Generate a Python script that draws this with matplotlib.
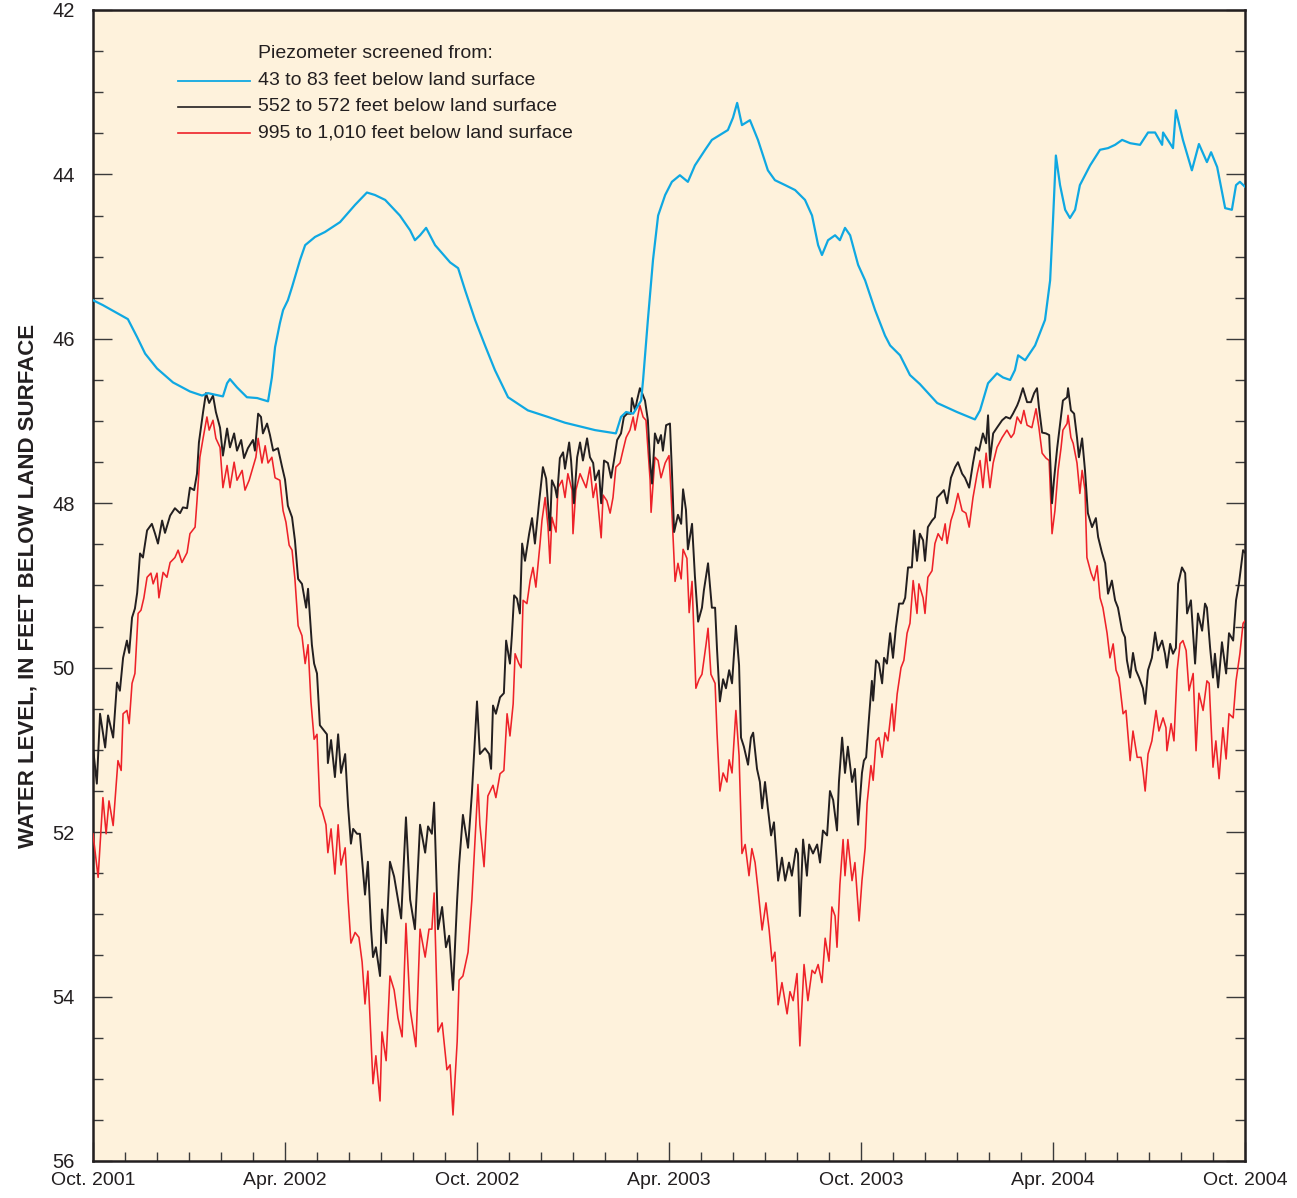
import matplotlib
matplotlib.use("Agg")
import matplotlib.pyplot as plt
from matplotlib.ticker import MultipleLocator, FixedLocator
import numpy as np

FONT = ['Liberation Sans', 'DejaVu Sans']
plt.rcParams['font.family'] = FONT

# x values are months after October 1, 2001
shallow_t = [0, 0.31, 0.63, 1.09, 1.38, 1.63, 2.0, 2.5, 3.03, 3.41, 3.59, 4.06, 4.19, 4.28, 4.5, 4.81,
             5.13, 5.47, 5.59, 5.69, 5.84, 5.94, 6.09, 6.22, 6.47, 6.63, 6.94, 7.25, 7.72, 8.19, 8.56,
             8.81, 9.13, 9.59, 9.91, 10.06, 10.22, 10.41, 10.69, 11.16, 11.41, 11.63, 11.94, 12.25,
             12.56, 12.97, 13.59, 14.22, 14.75, 15.69, 16.34, 16.5, 16.66, 16.88, 17.13, 17.19, 17.34,
             17.5, 17.66, 17.88, 18.09, 18.34, 18.59, 18.81, 19.13, 19.34, 19.59, 19.84, 20.0, 20.13,
             20.28, 20.53, 20.78, 21.09, 21.31, 21.63, 21.94, 22.25, 22.47, 22.66, 22.78, 22.97, 23.19,
             23.34, 23.5, 23.66, 23.91, 24.13, 24.44, 24.75, 24.91, 25.22, 25.53, 25.84, 26.38, 27.0,
             27.56, 27.72, 27.97, 28.25, 28.44, 28.66, 28.81, 28.91, 29.13, 29.44, 29.75, 29.91, 30.0,
             30.09, 30.22, 30.38, 30.53, 30.69, 30.84, 31.0, 31.16, 31.47, 31.72, 31.94, 32.16, 32.41,
             32.72, 32.97, 33.19, 33.41, 33.44, 33.75, 33.84, 34.06, 34.34, 34.56, 34.81, 34.94, 35.13,
             35.38, 35.59, 35.72, 35.84, 36.0]
shallow_v = [45.53, 45.59, 45.66, 45.76, 45.98, 46.18, 46.36, 46.53, 46.64, 46.69, 46.66, 46.70, 46.54,
             46.49, 46.59, 46.71, 46.72, 46.76, 46.47, 46.10, 45.81, 45.65, 45.53, 45.37, 45.04, 44.86,
             44.76, 44.70, 44.58, 44.37, 44.22, 44.25, 44.31, 44.50, 44.68, 44.80, 44.74, 44.65, 44.86,
             45.07, 45.14, 45.41, 45.77, 46.08, 46.38, 46.71, 46.87, 46.95, 47.02, 47.11, 47.15, 46.95,
             46.89, 46.91, 46.75, 46.50, 45.77, 45.04, 44.50, 44.25, 44.09, 44.01, 44.09, 43.89, 43.70,
             43.58, 43.52, 43.46, 43.31, 43.13, 43.40, 43.34, 43.58, 43.95, 44.07, 44.13, 44.19, 44.31,
             44.50, 44.86, 44.98, 44.80, 44.74, 44.80, 44.65, 44.74, 45.10, 45.29, 45.65, 45.96, 46.08,
             46.20, 46.44, 46.55, 46.78, 46.89, 46.98, 46.87, 46.54, 46.42, 46.47, 46.50, 46.38, 46.20,
             46.26, 46.08, 45.77, 45.29, 44.56, 43.77, 44.13, 44.43, 44.53, 44.43, 44.13, 44.01, 43.89,
             43.70, 43.68, 43.64, 43.58, 43.62, 43.64, 43.49, 43.49, 43.64, 43.49, 43.68, 43.22, 43.58,
             43.95, 43.63, 43.85, 43.73, 43.91, 44.41, 44.43, 44.13, 44.09, 44.15]

mid_t = [0.01, 0.12, 0.22, 0.38, 0.47, 0.63, 0.75, 0.84, 0.94, 1.06, 1.13, 1.22, 1.31, 1.38, 1.47, 1.56,
         1.69, 1.84, 1.94, 2.03, 2.16, 2.25, 2.41, 2.56, 2.72, 2.81, 2.94, 3.03, 3.16, 3.25, 3.31, 3.44,
         3.53, 3.63, 3.75, 3.84, 3.97, 4.06, 4.19, 4.28, 4.41, 4.5, 4.63, 4.72, 4.84, 5.0, 5.06, 5.16,
         5.25, 5.31, 5.44, 5.53, 5.63, 5.78, 5.91, 6.0, 6.09, 6.22, 6.31, 6.41, 6.53, 6.66, 6.72, 6.84,
         6.91, 7.0, 7.09, 7.19, 7.31, 7.34, 7.44, 7.56, 7.66, 7.75, 7.88, 7.97, 8.06, 8.13, 8.25, 8.34,
         8.5, 8.59, 8.69, 8.75, 8.84, 8.97, 9.03, 9.16, 9.28, 9.41, 9.53, 9.63, 9.78, 9.91, 10.06, 10.22,
         10.38, 10.47, 10.59, 10.66, 10.78, 10.91, 11.03, 11.13, 11.25, 11.38, 11.44, 11.56, 11.72,
         11.84, 12.0, 12.09, 12.25, 12.38, 12.44, 12.5, 12.59, 12.72, 12.84, 12.91, 13.03, 13.09, 13.16,
         13.25, 13.34, 13.41, 13.5, 13.63, 13.72, 13.81, 13.94, 14.06, 14.16, 14.28, 14.34, 14.44,
         14.5, 14.59, 14.69, 14.75, 14.88, 14.94, 15.03, 15.13, 15.22, 15.31, 15.44, 15.53, 15.63,
         15.69, 15.81, 15.88, 15.97, 16.09, 16.19, 16.28, 16.38, 16.5, 16.59, 16.69, 16.81, 16.84,
         16.94, 17.0, 17.09, 17.16, 17.25, 17.34, 17.41, 17.47, 17.56, 17.66, 17.75, 17.81, 17.91,
         18.03, 18.09, 18.16, 18.28, 18.38, 18.44, 18.53, 18.59, 18.72, 18.81, 18.91, 19.03, 19.09,
         19.22, 19.34, 19.44, 19.5, 19.59, 19.69, 19.78, 19.88, 19.97, 20.09, 20.19, 20.25, 20.34,
         20.47, 20.56, 20.63, 20.75, 20.84, 20.91, 21.0, 21.09, 21.19, 21.28, 21.41, 21.53, 21.63,
         21.75, 21.84, 21.97, 22.03, 22.09, 22.19, 22.31, 22.38, 22.5, 22.63, 22.72, 22.81, 22.94,
         23.03, 23.13, 23.25, 23.31, 23.41, 23.5, 23.59, 23.72, 23.81, 23.91, 24.03, 24.09, 24.16,
         24.25, 24.34, 24.38, 24.47, 24.56, 24.66, 24.72, 24.81, 24.91, 25.0, 25.09, 25.19, 25.31,
         25.38, 25.47, 25.59, 25.66, 25.75, 25.84, 25.94, 26.0, 26.09, 26.22, 26.31, 26.38, 26.5,
         26.59, 26.69, 26.81, 26.94, 27.03, 27.16, 27.25, 27.38, 27.5, 27.59, 27.69, 27.81, 27.91,
         27.97, 28.03, 28.13, 28.25, 28.41, 28.53, 28.66, 28.75, 28.88, 28.94, 29.06, 29.19, 29.31,
         29.41, 29.5, 29.56, 29.66, 29.78, 29.88, 29.97, 30.03, 30.13, 30.25, 30.31, 30.44, 30.47,
         30.56, 30.66, 30.75, 30.81, 30.91, 31.0, 31.09, 31.22, 31.34, 31.41, 31.53, 31.63, 31.72,
         31.84, 31.94, 32.03, 32.16, 32.25, 32.31, 32.41, 32.5, 32.59, 32.69, 32.81, 32.88, 32.97,
         33.09, 33.19, 33.28, 33.41, 33.5, 33.56, 33.66, 33.75, 33.84, 33.91, 34.03, 34.13, 34.19,
         34.31, 34.44, 34.53, 34.66, 34.75, 34.81, 34.91, 35.0, 35.06, 35.16, 35.28, 35.41, 35.5,
         35.63, 35.72, 35.81, 35.94, 36.0]
mid_v = [51.01, 51.41, 50.56, 50.97, 50.58, 50.85, 50.18, 50.28, 49.88, 49.67, 49.82, 49.39, 49.28,
         49.09, 48.61, 48.66, 48.33, 48.25, 48.37, 48.49, 48.21, 48.36, 48.15, 48.06, 48.12, 48.05,
         48.06, 47.81, 47.84, 47.64, 47.26, 46.89, 46.66, 46.78, 46.69, 46.89, 47.08, 47.42, 47.09,
         47.32, 47.15, 47.36, 47.23, 47.45, 47.33, 47.23, 47.36, 46.91, 46.95, 47.15, 47.03, 47.17,
         47.36, 47.33, 47.56, 47.71, 48.03, 48.17, 48.45, 48.92, 48.98, 49.27, 49.04, 49.72, 49.95,
         50.07, 50.70, 50.75, 50.81, 51.16, 50.88, 51.33, 50.81, 51.28, 51.05, 51.68, 52.14, 51.96,
         52.02, 52.02, 52.76, 52.36, 53.18, 53.52, 53.40, 53.75, 52.94, 53.35, 52.36, 52.54, 52.82,
         53.05, 51.82, 52.82, 53.18, 51.91, 52.25, 51.93, 52.02, 51.64, 53.18, 52.91, 53.40, 53.26,
         53.92, 52.82, 52.40, 51.79, 52.19, 51.53, 50.41, 51.05, 50.98, 51.05, 51.23, 50.46, 50.56,
         50.36, 50.31, 49.67, 49.95, 49.61, 49.12, 49.16, 49.34, 48.49, 48.70, 48.37, 48.18, 48.49,
         47.99, 47.56, 47.70, 48.33, 47.72, 47.81, 47.93, 47.45, 47.38, 47.58, 47.26, 47.48, 48.00,
         47.44, 47.26, 47.48, 47.21, 47.44, 47.51, 47.72, 47.60, 48.00, 47.48, 47.51, 47.69, 47.48,
         47.23, 47.15, 46.95, 46.91, 46.91, 46.72, 46.87, 46.75, 46.60, 46.66, 46.75, 46.99, 47.51,
         47.76, 47.15, 47.27, 47.17, 47.36, 47.05, 47.03, 47.60, 48.35, 48.14, 48.25, 47.83, 48.08,
         48.56, 48.25, 48.89, 49.44, 49.27, 49.06, 48.73, 49.27, 49.27, 49.77, 50.41, 50.14, 50.25,
         50.03, 50.19, 49.49, 49.97, 50.85, 50.96, 51.18, 50.85, 50.79, 51.23, 51.39, 51.71, 51.39,
         51.71, 52.04, 51.88, 52.59, 52.31, 52.59, 52.37, 52.53, 52.20, 52.26, 53.02, 52.09, 52.53,
         52.15, 52.26, 52.15, 52.37, 51.98, 52.04, 51.50, 51.61, 51.98, 51.39, 50.85, 51.28, 50.96,
         51.39, 51.23, 51.91, 51.28, 51.13, 51.09, 50.61, 50.16, 50.40, 49.91, 49.95, 50.19, 49.88,
         49.95, 49.58, 49.88, 49.51, 49.22, 49.22, 49.15, 48.78, 48.78, 48.33, 48.70, 48.37, 48.45,
         48.70, 48.29, 48.21, 48.17, 47.93, 47.88, 47.84, 48.00, 47.69, 47.56, 47.50, 47.64, 47.69,
         47.81, 47.51, 47.32, 47.36, 47.15, 47.27, 46.93, 47.48, 47.15, 47.08, 46.99, 46.95, 46.97,
         46.91, 46.81, 46.75, 46.60, 46.77, 46.77, 46.66, 46.60, 46.83, 47.14, 47.15, 47.17, 48.00,
         47.72, 47.33, 46.95, 46.75, 46.71, 46.60, 46.87, 46.91, 47.20, 47.44, 47.21, 47.60, 48.12,
         48.29, 48.18, 48.41, 48.60, 48.73, 49.10, 48.94, 49.18, 49.27, 49.55, 49.63, 49.91, 50.12,
         49.82, 50.03, 50.12, 50.25, 50.44, 50.03, 49.88, 49.57, 49.79, 49.67, 49.83, 50.00, 49.71,
         49.83, 49.76, 48.98, 48.78, 48.85, 49.34, 49.18, 49.95, 49.34, 49.55, 49.22, 49.27, 49.76,
         50.12, 49.83, 50.24, 49.69, 50.07, 49.58, 49.67, 49.18, 48.98, 48.57, 48.60]

deep_t = [0.0, 0.16, 0.31, 0.41, 0.5, 0.63, 0.78, 0.88, 0.94, 1.06, 1.13, 1.22, 1.31, 1.41, 1.5, 1.59,
          1.69, 1.81, 1.88, 2.0, 2.06, 2.19, 2.31, 2.41, 2.56, 2.66, 2.78, 2.94, 3.03, 3.19, 3.25, 3.34,
          3.44, 3.56, 3.63, 3.75, 3.84, 3.97, 4.06, 4.19, 4.28, 4.41, 4.5, 4.66, 4.75, 4.88, 5.0, 5.09,
          5.16, 5.28, 5.38, 5.47, 5.59, 5.69, 5.84, 5.94, 6.03, 6.13, 6.22, 6.31, 6.41, 6.53, 6.63,
          6.72, 6.81, 6.91, 7.0, 7.09, 7.16, 7.28, 7.34, 7.44, 7.56, 7.66, 7.75, 7.88, 7.97, 8.06, 8.19,
          8.31, 8.41, 8.5, 8.59, 8.69, 8.75, 8.84, 8.97, 9.03, 9.16, 9.28, 9.41, 9.53, 9.66, 9.78, 9.91,
          10.09, 10.22, 10.38, 10.5, 10.59, 10.66, 10.78, 10.91, 11.06, 11.16, 11.25, 11.38, 11.44,
          11.56, 11.72, 11.84, 12.03, 12.09, 12.22, 12.34, 12.5, 12.59, 12.72, 12.84, 12.94, 13.03,
          13.13, 13.19, 13.31, 13.38, 13.44, 13.56, 13.66, 13.75, 13.84, 13.97, 14.03, 14.13, 14.22,
          14.28, 14.34, 14.47, 14.53, 14.66, 14.75, 14.84, 14.97, 15.0, 15.09, 15.22, 15.31, 15.41,
          15.53, 15.63, 15.72, 15.88, 15.94, 16.06, 16.16, 16.25, 16.34, 16.47, 16.56, 16.66, 16.78,
          16.88, 16.94, 17.09, 17.19, 17.28, 17.41, 17.44, 17.56, 17.66, 17.75, 17.88, 18.0, 18.06,
          18.19, 18.28, 18.38, 18.44, 18.56, 18.63, 18.72, 18.84, 18.94, 19.03, 19.16, 19.22, 19.31,
          19.44, 19.5, 19.59, 19.69, 19.81, 19.88, 19.97, 20.09, 20.19, 20.28, 20.38, 20.5, 20.59,
          20.69, 20.78, 20.91, 21.03, 21.13, 21.22, 21.31, 21.41, 21.53, 21.69, 21.78, 21.88, 22.0,
          22.09, 22.22, 22.34, 22.47, 22.56, 22.66, 22.78, 22.88, 23.0, 23.09, 23.19, 23.25, 23.34,
          23.44, 23.5, 23.59, 23.72, 23.81, 23.94, 24.03, 24.13, 24.19, 24.31, 24.38, 24.47, 24.56,
          24.66, 24.75, 24.84, 24.97, 25.03, 25.13, 25.25, 25.34, 25.44, 25.53, 25.63, 25.75, 25.81,
          25.94, 26.0, 26.09, 26.22, 26.31, 26.41, 26.53, 26.63, 26.69, 26.81, 26.91, 27.03, 27.16,
          27.28, 27.38, 27.5, 27.63, 27.72, 27.81, 27.91, 28.03, 28.13, 28.25, 28.41, 28.56, 28.69,
          28.78, 28.88, 29.0, 29.09, 29.19, 29.34, 29.47, 29.56, 29.66, 29.78, 29.88, 29.97, 30.06,
          30.16, 30.25, 30.31, 30.44, 30.47, 30.56, 30.63, 30.75, 30.84, 30.91, 31.0, 31.06, 31.19,
          31.28, 31.38, 31.47, 31.56, 31.69, 31.78, 31.88, 31.97, 32.06, 32.19, 32.28, 32.41, 32.5,
          32.63, 32.75, 32.81, 32.88, 32.97, 33.09, 33.22, 33.31, 33.44, 33.53, 33.56, 33.69, 33.78,
          33.88, 33.97, 34.06, 34.16, 34.25, 34.38, 34.47, 34.56, 34.69, 34.81, 34.88, 35.0, 35.09,
          35.19, 35.31, 35.41, 35.5, 35.63, 35.72, 35.84, 35.94, 36.0]
deep_v = [52.02, 52.55, 51.58, 52.02, 51.62, 51.92, 51.13, 51.25, 50.56, 50.52, 50.68, 50.19, 50.07,
          49.34, 49.30, 49.15, 48.90, 48.85, 48.98, 48.85, 49.15, 48.84, 48.90, 48.72, 48.66, 48.57,
          48.72, 48.60, 48.37, 48.29, 47.97, 47.44, 47.21, 46.95, 47.11, 46.99, 47.21, 47.32, 47.81,
          47.54, 47.81, 47.50, 47.72, 47.60, 47.84, 47.72, 47.56, 47.44, 47.21, 47.51, 47.30, 47.51,
          47.44, 47.69, 47.72, 48.09, 48.23, 48.51, 48.57, 48.92, 49.49, 49.61, 49.95, 49.72, 50.41,
          50.87, 50.81, 51.68, 51.74, 51.91, 52.25, 51.96, 52.51, 51.91, 52.40, 52.19, 52.82, 53.35,
          53.22, 53.28, 53.58, 54.09, 53.69, 54.55, 55.06, 54.72, 55.27, 54.43, 54.78, 53.75, 53.92,
          54.26, 54.49, 53.11, 54.15, 54.61, 53.18, 53.52, 53.18, 53.18, 52.74, 54.43, 54.32, 54.89,
          54.83, 55.44, 54.55, 53.80, 53.75, 53.46, 52.82, 51.42, 51.91, 52.42, 51.56, 51.43, 51.58,
          51.29, 51.25, 50.56, 50.83, 50.44, 49.83, 49.95, 50.00, 49.18, 49.22, 48.94, 48.78, 49.02,
          48.49, 48.21, 47.93, 48.29, 48.73, 48.17, 48.35, 47.81, 47.72, 47.93, 47.64, 47.84, 48.37,
          47.84, 47.64, 47.72, 47.81, 47.56, 47.93, 47.76, 48.42, 47.90, 47.97, 48.12, 47.93, 47.56,
          47.51, 47.36, 47.20, 47.11, 46.95, 47.11, 46.81, 46.95, 46.99, 47.72, 48.11, 47.44, 47.48,
          47.69, 47.51, 47.42, 47.84, 48.95, 48.73, 48.92, 48.56, 48.67, 49.33, 48.95, 50.25, 50.14,
          50.08, 49.71, 49.52, 50.08, 50.19, 50.79, 51.50, 51.28, 51.39, 51.12, 51.28, 50.52, 51.07,
          52.26, 52.15, 52.53, 52.20, 52.37, 52.69, 53.19, 52.86, 53.19, 53.57, 53.46, 54.10, 53.83,
          54.21, 53.94, 54.05, 53.72, 54.60, 53.61, 54.05, 53.68, 53.72, 53.61, 53.83, 53.29, 53.57,
          52.91, 53.02, 53.40, 52.64, 52.09, 52.53, 52.09, 52.59, 52.37, 53.08, 52.59, 52.19, 51.65,
          51.19, 51.37, 50.89, 50.85, 51.09, 50.79, 50.89, 50.44, 50.77, 50.32, 50.00, 49.91, 49.58,
          49.46, 48.94, 49.34, 48.98, 49.15, 49.34, 48.90, 48.82, 48.49, 48.37, 48.45, 48.25, 48.49,
          48.21, 48.09, 47.88, 48.09, 48.12, 48.29, 47.93, 47.64, 47.48, 47.81, 47.39, 47.81, 47.51,
          47.32, 47.20, 47.11, 47.20, 47.15, 46.95, 47.03, 46.87, 47.05, 47.08, 46.85, 47.08, 47.39,
          47.45, 47.48, 48.37, 48.09, 47.60, 47.33, 47.11, 47.03, 46.93, 47.20, 47.27, 47.51, 47.88,
          47.60, 47.84, 48.66, 48.85, 48.94, 48.76, 49.15, 49.27, 49.58, 49.88, 49.71, 50.03, 50.12,
          50.56, 50.52, 51.13, 50.77, 51.09, 51.09, 51.25, 51.50, 51.05, 50.89, 50.52, 50.77, 50.61,
          50.73, 51.01, 50.68, 50.89, 50.03, 49.71, 49.67, 49.79, 50.28, 50.07, 51.01, 50.31, 50.52,
          50.16, 50.19, 51.21, 50.89, 51.35, 50.73, 51.11, 50.56, 50.61, 50.16, 49.83, 49.46, 49.43]

series_labels = ['43 to 83 feet below land surface',
                 '552 to 572 feet below land surface',
                 '995 to 1,010 feet below land surface']
legend_title = 'Piezometer screened from:'
x_tick_pos = [0, 6, 12, 18, 24, 30, 36]
x_tick_labels = ['Oct. 2001', 'Apr. 2002', 'Oct. 2002', 'Apr. 2003', 'Oct. 2003', 'Apr. 2004', 'Oct. 2004']
y_tick_pos = [42, 44, 46, 48, 50, 52, 54, 56]

BG = '#FEF2DC'
BLUE = '#0FA8E2'
BLACK = '#231F20'
RED = '#EE2229'
TICKC = '#3a3a3a'
TXT = '#231F20'

fig = plt.figure(figsize=(12.97, 11.98), dpi=100)
ax = fig.add_axes([93 / 1297, 1 - 1161 / 1198, 1152 / 1297, 1151 / 1198])
ax.set_facecolor(BG)

ax.plot(deep_t, deep_v, color=RED, lw=1.15, zorder=3)
ax.plot(mid_t, mid_v, color=BLACK, lw=1.4, zorder=4)
ax.plot(shallow_t, shallow_v, color=BLUE, lw=1.6, zorder=5)

ax.set_xlim(0, 36)
ax.set_ylim(56, 42)

ax.xaxis.set_major_locator(FixedLocator(x_tick_pos))
ax.set_xticklabels(x_tick_labels)
ax.xaxis.set_minor_locator(MultipleLocator(1))
ax.yaxis.set_major_locator(FixedLocator(y_tick_pos))
ax.yaxis.set_minor_locator(MultipleLocator(0.5))

ax.tick_params(axis='x', which='major', direction='in', length=13.5, width=1.0, color=TICKC,
               labelsize=14, pad=8, top=False, labelcolor=TXT)
ax.tick_params(axis='x', which='minor', direction='in', length=6.5, width=1.0, color=TICKC, top=False)
ax.tick_params(axis='y', which='major', direction='in', length=14, width=1.0, color=TICKC,
               labelsize=14.5, pad=13, left=True, right=True, labelcolor=TXT)
ax.tick_params(axis='y', which='minor', direction='in', length=7, width=1.0, color=TICKC,
               left=True, right=True)
for lab in ax.get_xticklabels() + ax.get_yticklabels():
    lab.set_family(FONT)

for s in ax.spines.values():
    s.set_linewidth(1.8)
    s.set_color(TXT)

ax.set_ylabel('WATER LEVEL, IN FEET BELOW LAND SURFACE', fontsize=16, fontweight='bold',
              family=FONT, color=TXT)
ax.yaxis.set_label_coords(-0.047, 0.5)

# legend drawn as text and short lines in axes fraction
lx0, lx1, tx = 0.0738, 0.1363, 0.1432
ys = [0.9384, 0.9158, 0.8932]
ax.text(tx, 0.9618, legend_title, transform=ax.transAxes, fontsize=14, va='center', ha='left',
        family=FONT, color=TXT)
for yy, lab, c, lw in zip(ys, series_labels, [BLUE, BLACK, RED], [1.3, 1.2, 1.2]):
    ax.plot([lx0, lx1], [yy, yy], transform=ax.transAxes, color=c, lw=lw, zorder=6)
    ax.text(tx, yy, lab, transform=ax.transAxes, fontsize=14, va='center', ha='left',
            family=FONT, color=TXT)

fig.savefig('out.png', dpi=100, facecolor='white')
